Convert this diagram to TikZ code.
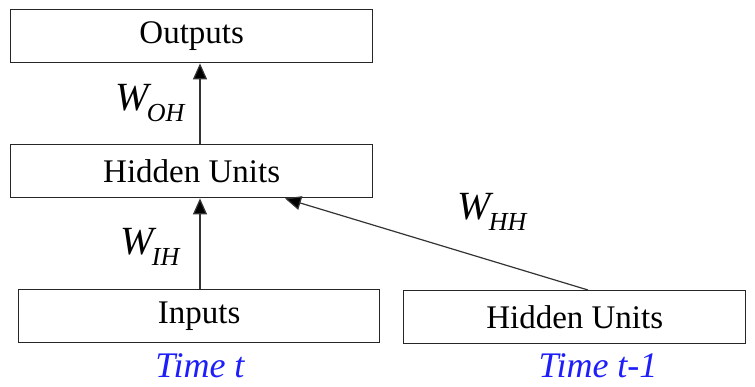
\documentclass[tikz,border=0pt]{standalone}
\usepackage{fontspec}
\setmainfont{Liberation Serif}
\usetikzlibrary{arrows.meta}
\definecolor{timeblue}{RGB}{30,30,250}
\tikzset{
  box/.style={draw=black!85, line width=1.4pt, minimum height=53pt, inner sep=0pt, font=\fontsize{33}{36}\selectfont},
  conn/.style={draw=black!80, line width=1.2pt, -{Triangle[length=16pt,width=14pt,fill=black]}},
  wlab/.style={inner sep=0pt, font=\fontsize{40}{44}\selectfont\itshape},
  tlab/.style={inner sep=0pt, text=timeblue, font=\fontsize{36}{38}\selectfont\itshape}
}
\newcommand{\wsub}[1]{W\kern-2pt\raisebox{-0.28em}{\fontsize{26}{28}\selectfont #1}}
\begin{document}
\begin{tikzpicture}[x=1pt,y=-1pt]
\useasboundingbox (0,0) rectangle (755,387);
\node[box, minimum width=362pt, anchor=north west] (out) at (10,9) {Outputs};
\node[box, minimum width=362pt, anchor=north west] (hid) at (10,144) {Hidden Units};
\node[box, minimum width=361pt, anchor=north west] (inp) at (18,289) {Inputs};
\node[box, minimum width=342pt, anchor=north west] (hprev) at (403,290) {Hidden Units};
\coordinate (hidt) at (hid.north -| 200,0);
\coordinate (hidb) at (hid.south -| 200,0);
\coordinate (inpt) at (inp.north -| 200,0);
\coordinate (outb) at (out.south -| 200,0);
\coordinate (hpt) at (hprev.north -| 588,0);
\coordinate (hidhh) at (hid.south -| 285,0);
\draw[conn] (inpt) -- (hidb);
\draw[conn] (hidt) -- (outb);
\draw[conn] (hpt) -- (hidhh);
\node[wlab] (woh) at (150,103) {\wsub{OH}};
\node[wlab] (wih) at (150,247) {\wsub{IH}};
\node[wlab] (whh) at (492,212) {\wsub{HH}};
\node[tlab] (tt) at (200,366) {Time t};
\node[tlab] (tt1) at (598,366) {Time t-1};
\end{tikzpicture}
\end{document}
